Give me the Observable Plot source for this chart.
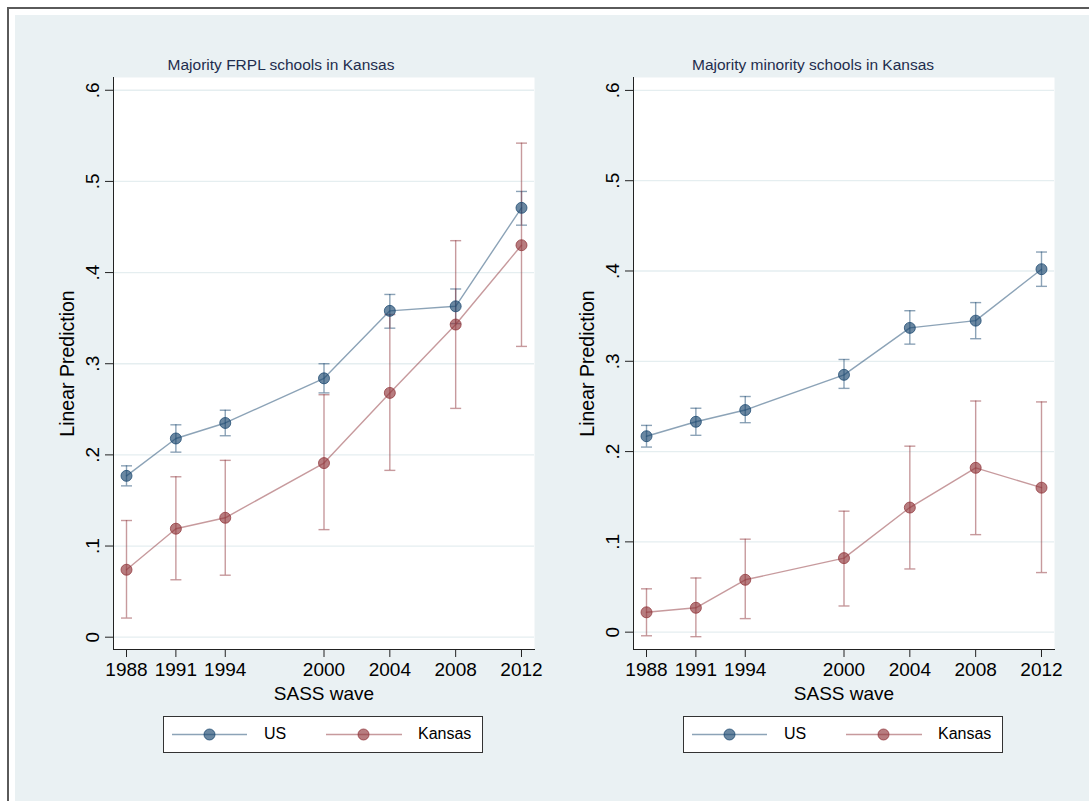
<!DOCTYPE html>
<html>
<head>
<meta charset="utf-8">
<script src="https://cdn.jsdelivr.net/npm/d3@7"></script>
<script src="https://cdn.jsdelivr.net/npm/@observablehq/plot@0.6"></script>
<style>
html, body { margin: 0; padding: 0; overflow: hidden; width: 1089px; height: 801px; background: #fff;
  font-family: "Liberation Sans", Arial, Helvetica, sans-serif; }
#outer { position: absolute; left: 7px; top: 7px; width: 1200px; height: 900px;
  border-left: 2px solid #5a5a5a; border-top: 2px solid #5a5a5a; background: #fff; }
#bg { position: absolute; left: 15px; top: 15px; width: 1200px; height: 900px; background: #eaf1f3; }
.panel { position: absolute; top: 15px; }
.title { position: absolute; top: 57px; width: 532px; text-align: center; font-size: 15.5px;
  line-height: 16px; color: #1f2d4d; white-space: nowrap; }
.legend { position: absolute; top: 716px; width: 320px; height: 37px; border: 1px solid #333;
  background: #fff; box-sizing: border-box; }
.legend svg { position: absolute; left: 0; top: 0; }
.legend span { position: absolute; top: 8px; font-size: 16px; line-height: 18px; color: #000; }
</style>
</head>
<body>
<div id="outer"></div>
<div id="bg"></div>
<div id="root"></div>
<script>
// ---- data ----
const waves = [1988, 1991, 1994, 2000, 2004, 2008, 2012];
const seriesNames = ["US", "Kansas"];
const panelTitles = ["Majority FRPL schools in Kansas", "Majority minority schools in Kansas"];
const yTicks = [0, 0.1, 0.2, 0.3, 0.4, 0.5, 0.6];
const xDomain = [1987.21, 2012.79];
const yDomainFrpl = [-0.0135, 0.614];
const yDomainMin = [-0.0192, 0.6143];

// Panel 1: Majority FRPL schools
const frplUS   = [0.177, 0.218, 0.235, 0.284, 0.358, 0.363, 0.471];
const frplUSLo = [0.166, 0.203, 0.221, 0.268, 0.339, 0.344, 0.452];
const frplUSHi = [0.188, 0.233, 0.249, 0.300, 0.376, 0.382, 0.489];
const frplKS   = [0.074, 0.119, 0.131, 0.191, 0.268, 0.343, 0.430];
const frplKSLo = [0.021, 0.063, 0.068, 0.118, 0.183, 0.251, 0.319];
const frplKSHi = [0.128, 0.176, 0.194, 0.266, 0.354, 0.435, 0.542];

// Panel 2: Majority minority schools
const minUS   = [0.217, 0.233, 0.246, 0.285, 0.337, 0.345, 0.402];
const minUSLo = [0.205, 0.218, 0.232, 0.270, 0.319, 0.325, 0.383];
const minUSHi = [0.229, 0.248, 0.261, 0.302, 0.356, 0.365, 0.421];
const minKS   = [0.022, 0.027, 0.058, 0.082, 0.138, 0.182, 0.160];
const minKSLo = [-0.004, -0.005, 0.015, 0.029, 0.070, 0.108, 0.066];
const minKSHi = [0.048, 0.060, 0.103, 0.134, 0.206, 0.256, 0.255];

const colors = { US: "#1a476f", Kansas: "#90353b" };

// ---- helpers ----
function table(v, lo, hi) {
  return waves.map((year, i) => ({ year, v: v[i], lo: lo[i], hi: hi[i] }));
}
const capSymbol = {
  draw(ctx, size) {
    const r = Math.sqrt(size / Math.PI);
    ctx.moveTo(-r, 0);
    ctx.lineTo(r, 0);
  }
};
const yFmt = d => d === 0 ? "0" : d3.format(".1f")(d).replace(/^0/, "");
const FONT = '"Liberation Sans", Arial, Helvetica, sans-serif';

function seriesMarks(data, color, kind) {
  if (kind === "ci") return [
    Plot.ruleX(data, { x: "year", y1: "lo", y2: "hi", stroke: color, strokeOpacity: 0.5, strokeWidth: 1.4 }),
    Plot.dot(data, { x: "year", y: "lo", symbol: capSymbol, r: 5.5, fill: "none", stroke: color, strokeOpacity: 0.5, strokeWidth: 1.4 }),
    Plot.dot(data, { x: "year", y: "hi", symbol: capSymbol, r: 5.5, fill: "none", stroke: color, strokeOpacity: 0.5, strokeWidth: 1.4 })
  ];
  if (kind === "line") return [
    Plot.line(data, { x: "year", y: "v", stroke: color, strokeOpacity: 0.5, strokeWidth: 1.4 })
  ];
  return [
    Plot.dot(data, { x: "year", y: "v", r: 5.5, fill: color, fillOpacity: 0.65, stroke: color, strokeOpacity: 0.75, strokeWidth: 1 })
  ];
}

function makePanel(us, ks, yDomain, mLeft, mRight) {
  return Plot.plot({
    width: 530, height: 690,
    marginLeft: mLeft, marginRight: mRight, marginTop: 62, marginBottom: 56,
    style: { background: "transparent", fontFamily: FONT, fontSize: "19px", color: "#000", overflow: "visible" },
    x: { domain: xDomain },
    y: { domain: yDomain },
    marks: [
      Plot.frame({ fill: "white", stroke: "none" }),
      Plot.gridY(yTicks, { stroke: "#e5eef0", strokeOpacity: 1, strokeWidth: 1.3 }),
      Plot.frame({ anchor: "left", stroke: "#222", strokeWidth: 1 }),
      Plot.frame({ anchor: "bottom", stroke: "#222", strokeWidth: 1 }),
      Plot.axisY(yTicks, { tickSize: 8, tickPadding: 7, tickRotate: -90, tickFormat: yFmt, fontSize: 19, label: null, stroke: "#222" }),
      Plot.axisX(waves, { tickSize: 8, tickPadding: 5, tickFormat: "d", fontSize: 19, label: null, stroke: "#222" }),
      Plot.text(["Linear Prediction"], { frameAnchor: "left", textAnchor: "middle", lineAnchor: "middle", rotate: -90, dx: -45.5, fontSize: 19.5, fill: "#000" }),
      Plot.text(["SASS wave"], { frameAnchor: "bottom", textAnchor: "middle", lineAnchor: "middle", dy: 44, fontSize: 19, fill: "#000" }),
      ...seriesMarks(us, colors.US, "ci"),
      ...seriesMarks(ks, colors.Kansas, "ci"),
      ...seriesMarks(us, colors.US, "line"),
      ...seriesMarks(ks, colors.Kansas, "line"),
      ...seriesMarks(us, colors.US, "dot"),
      ...seriesMarks(ks, colors.Kansas, "dot")
    ]
  });
}

function legend(left) {
  const div = document.createElement("div");
  div.className = "legend";
  div.style.left = left + "px";
  const sw = (x1, x2, cx, c) =>
    `<line x1="${x1}" x2="${x2}" y1="17.5" y2="17.5" stroke="${c}" stroke-opacity="0.5" stroke-width="1.4"/>` +
    `<circle cx="${cx}" cy="17.5" r="5.5" fill="${c}" fill-opacity="0.65" stroke="${c}" stroke-opacity="0.75"/>`;
  div.innerHTML =
    `<svg width="318" height="35">${sw(8, 83, 45.5, colors.US)}${sw(162, 238, 199.5, colors.Kansas)}</svg>` +
    `<span style="left:100px">${seriesNames[0]}</span><span style="left:254px">${seriesNames[1]}</span>`;
  return div;
}

const root = document.getElementById("root");
const panels = [
  { left: 15, el: makePanel(table(frplUS, frplUSLo, frplUSHi), table(frplKS, frplKSLo, frplKSHi), yDomainFrpl, 98, 11), title: panelTitles[0], legendLeft: 163 },
  { left: 545, el: makePanel(table(minUS, minUSLo, minUSHi), table(minKS, minKSLo, minKSHi), yDomainMin, 88, 21), title: panelTitles[1], legendLeft: 683 }
];
panels.forEach((p, i) => {
  const wrap = document.createElement("div");
  wrap.className = "panel";
  wrap.style.left = p.left + "px";
  wrap.appendChild(p.el);
  root.appendChild(wrap);
  const t = document.createElement("div");
  t.className = "title";
  t.style.left = (i === 0 ? 15 : 547) + "px";
  t.textContent = p.title;
  root.appendChild(t);
  root.appendChild(legend(p.legendLeft));
});
</script>
</body>
</html>
